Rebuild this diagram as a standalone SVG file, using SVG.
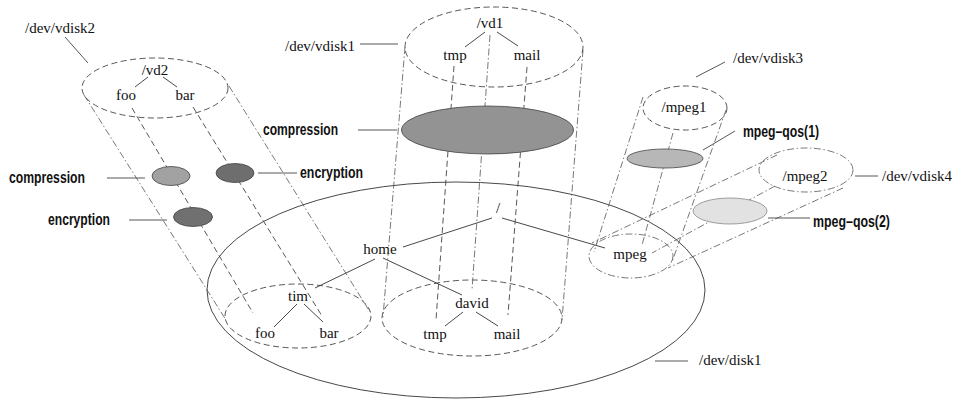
<svg xmlns="http://www.w3.org/2000/svg" width="968" height="403" viewBox="0 0 968 403">
<style>
.bg{fill:#fff}
.solid{fill:none;stroke:#333;stroke-width:0.9}
.lead{fill:none;stroke:#444;stroke-width:0.9}
.dash{fill:none;stroke:#444;stroke-width:0.9;stroke-dasharray:6 3.5}
.dd{fill:none;stroke:#555;stroke-width:0.8;stroke-dasharray:7 2.5 1.5 2.5}
.t{font-family:"Liberation Serif","Times New Roman",serif;font-size:15px;fill:#111}
.c{text-anchor:middle}
.b{font-family:"Liberation Sans",Arial,Helvetica,sans-serif;font-weight:bold;font-size:16px;fill:#111}
.blob{stroke:#444;stroke-width:0.8}
</style>
<rect class="bg" x="0" y="0" width="968" height="403"/>

<g id="disk1">
  <ellipse class="solid" cx="456" cy="290" rx="249" ry="108"/>
  <line class="lead" x1="655" y1="361" x2="688" y2="361"/>
  <text class="t" x="699" y="365">/dev/disk1</text>
</g>

<g id="tree-root">
  <text class="t c" x="498" y="213">/</text>
  <text class="t c" x="380" y="254">home</text>
  <text class="t c" x="630" y="259">mpeg</text>
</g>

<g id="tim-area">
  <ellipse class="dash" cx="298" cy="316" rx="73" ry="32"/>
  <text class="t c" x="298" y="301">tim</text>
  <text class="t c" x="265" y="338">foo</text>
  <text class="t c" x="329" y="338">bar</text>
</g>

<g id="david-area">
  <ellipse class="dash" cx="472" cy="318" rx="90" ry="38"/>
  <text class="t c" x="472" y="308">david</text>
  <text class="t c" x="435" y="339">tmp</text>
  <text class="t c" x="507" y="339">mail</text>
</g>

<g id="mpeg-area">
  <ellipse class="dd" cx="631" cy="256" rx="42" ry="22"/>
</g>

<g id="connectors">
  <!-- tree edges -->
  <line class="solid" x1="403" y1="247" x2="492" y2="218"/>
  <line class="solid" x1="502" y1="218" x2="605" y2="248"/>
  <line class="solid" x1="375" y1="259" x2="315" y2="288"/>
  <line class="solid" x1="383" y1="258" x2="462" y2="295"/>
  <line class="solid" x1="297" y1="304" x2="274" y2="327"/>
  <line class="solid" x1="304" y1="304" x2="323" y2="322"/>
  <line class="solid" x1="463" y1="312" x2="445" y2="326"/>
  <line class="solid" x1="476" y1="312" x2="498" y2="326"/>
  <line class="solid" x1="148" y1="77" x2="135" y2="87"/>
  <line class="solid" x1="163" y1="77" x2="177" y2="87"/>
  <line class="solid" x1="485" y1="32" x2="465" y2="47"/>
  <line class="solid" x1="497" y1="32" x2="518" y2="46"/>
  <!-- vdisk2 cylinder -->
  <line class="dd" x1="84" y1="95" x2="226" y2="320"/>
  <line class="dd" x1="229" y1="86" x2="370" y2="312"/>
  <line class="dash" x1="132" y1="108" x2="253" y2="313"/>
  <line class="dash" x1="193" y1="107" x2="322" y2="316"/>
  <!-- vdisk1 cylinder -->
  <line class="dd" x1="405" y1="47" x2="383" y2="317"/>
  <line class="dd" x1="583" y1="50" x2="562" y2="320"/>
  <line class="dash" x1="454" y1="66" x2="436" y2="320"/>
  <line class="dd" x1="490" y1="35" x2="472" y2="290"/>
  <line class="dash" x1="527" y1="67" x2="508" y2="315"/>
  <!-- vdisk3 cylinder -->
  <line class="dd" x1="643" y1="97" x2="594" y2="252"/>
  <line class="dd" x1="726" y1="110" x2="672" y2="262"/>
  <line class="dd" x1="673" y1="133" x2="642" y2="245"/>
  <!-- vdisk4 cylinder -->
  <line class="dd" x1="777" y1="155" x2="592" y2="243"/>
  <line class="dd" x1="843" y1="188" x2="668" y2="268"/>
  <line class="dd" x1="775" y1="186" x2="652" y2="253"/>
</g>

<g id="vdisk2">
  <ellipse class="dash" cx="155" cy="88" rx="73" ry="30"/>
  <text class="t c" x="155" y="75">/vd2</text>
  <text class="t c" x="126" y="100">foo</text>
  <text class="t c" x="185" y="100">bar</text>
  <line class="lead" x1="65" y1="37" x2="88" y2="63"/>
  <text class="t" x="25" y="33">/dev/vdisk2</text>
</g>

<g id="vd2-compression">
  <ellipse class="blob" cx="171" cy="176" rx="19" ry="9.5" fill="#a2a2a2"/>
  <line class="lead" x1="107" y1="178" x2="145" y2="178"/>
  <text class="b" x="9" y="183" textLength="76" lengthAdjust="spacingAndGlyphs">compression</text>
</g>

<g id="vd2-encryption-foo">
  <ellipse class="blob" cx="193" cy="217" rx="19.5" ry="9.5" fill="#707070"/>
  <line class="lead" x1="129" y1="220" x2="167" y2="220"/>
  <text class="b" x="48" y="225" textLength="62" lengthAdjust="spacingAndGlyphs">encryption</text>
</g>

<g id="vd2-encryption-bar">
  <ellipse class="blob" cx="235" cy="173" rx="19" ry="9.5" fill="#6e6e6e"/>
  <line class="lead" x1="258" y1="173" x2="297" y2="173"/>
  <text class="b" x="300" y="178" textLength="63" lengthAdjust="spacingAndGlyphs">encryption</text>
</g>

<g id="vdisk1">
  <ellipse class="dash" cx="494" cy="47" rx="89" ry="40"/>
  <text class="t c" x="490" y="28">/vd1</text>
  <text class="t c" x="455" y="60">tmp</text>
  <text class="t c" x="527" y="60">mail</text>
  <line class="lead" x1="360" y1="44" x2="398" y2="44"/>
  <text class="t" x="285" y="51">/dev/vdisk1</text>
</g>

<g id="vd1-compression">
  <ellipse class="blob" cx="487.5" cy="130" rx="86" ry="24" fill="#939393"/>
  <line class="lead" x1="358" y1="130" x2="397" y2="130"/>
  <text class="b" x="263" y="135" textLength="75" lengthAdjust="spacingAndGlyphs">compression</text>
</g>

<g id="vdisk3">
  <ellipse class="dash" cx="685" cy="108" rx="42" ry="22"/>
  <text class="t c" x="684" y="112">/mpeg1</text>
  <line class="lead" x1="696" y1="77" x2="725" y2="62"/>
  <text class="t" x="733" y="63">/dev/vdisk3</text>
</g>

<g id="mpeg-qos1">
  <ellipse class="blob" cx="665" cy="158.5" rx="38" ry="9.5" fill="#b7b7b7"/>
  <line class="lead" x1="703" y1="150" x2="735" y2="131"/>
  <text class="b" x="743" y="137" textLength="76" lengthAdjust="spacingAndGlyphs">mpeg–qos(1)</text>
</g>

<g id="vdisk4">
  <ellipse class="dd" cx="806" cy="170" rx="47" ry="22"/>
  <text class="t c" x="805" y="181">/mpeg2</text>
  <line class="lead" x1="855" y1="176" x2="878" y2="176"/>
  <text class="t" x="882" y="181">/dev/vdisk4</text>
</g>

<g id="mpeg-qos2">
  <ellipse cx="730" cy="211" rx="37" ry="13" fill="#e2e2e2" stroke="#888" stroke-width="0.8"/>
  <line class="lead" x1="768" y1="218" x2="810" y2="218"/>
  <text class="b" x="813" y="227" textLength="77" lengthAdjust="spacingAndGlyphs">mpeg–qos(2)</text>
</g>
</svg>
